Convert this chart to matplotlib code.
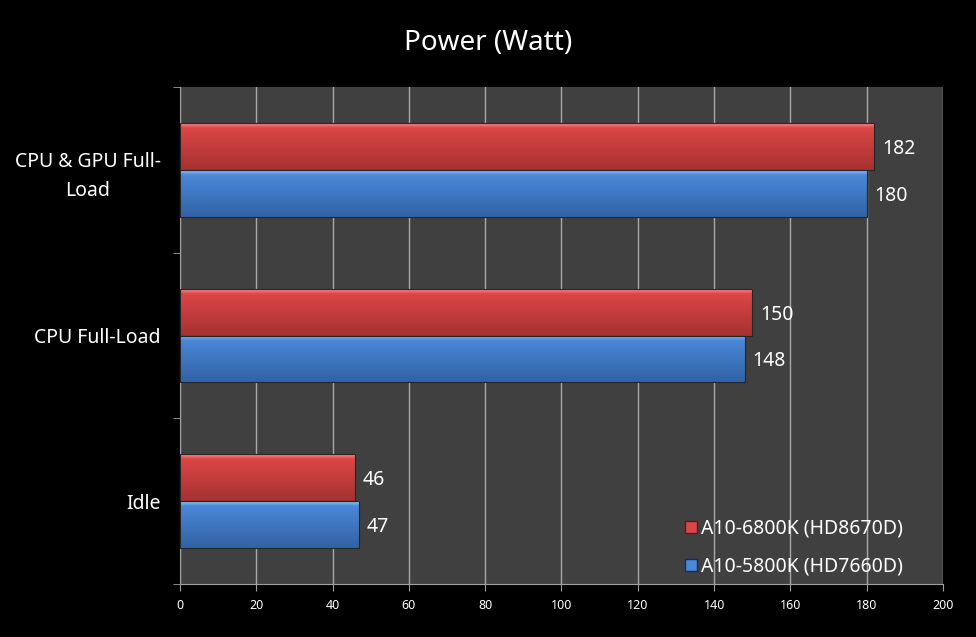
import numpy as np
import matplotlib.pyplot as plt
from matplotlib.patches import Rectangle
from matplotlib.lines import Line2D
from matplotlib.colors import to_rgb

categories = ["Idle", "CPU Full-Load", "CPU & GPU Full-\nLoad"]
a10_6800k = [46, 150, 182]
a10_5800k = [47, 148, 180]
series_names = ["A10-6800K (HD8670D)", "A10-5800K (HD7660D)"]
x_ticks = [0, 20, 40, 60, 80, 100, 120, 140, 160, 180, 200]

plt.rcParams['font.family'] = ['Noto Sans', 'DejaVu Sans']

RED = ["#f58a8a", "#dc4646", "#a63131"]
BLUE = ["#92c6f8", "#4a88d8", "#3262a4"]

fig = plt.figure(figsize=(9.76, 6.37), dpi=100, facecolor="black")
ax = fig.add_axes([0.1844, 0.0832, 0.7818, 0.7802])
ax.set_facecolor("#404040")

y = np.arange(len(categories))
h = 0.283


def grad_bar(x0, yc, w, hh, cols):
    # flat bar with a vertical gradient clipped inside
    r = Rectangle((x0, yc - hh / 2), w, hh, facecolor=cols[1],
                  edgecolor="none", zorder=3)
    ax.add_patch(r)
    n = 80
    c0, c1, c2 = (np.array(to_rgb(c)) for c in cols)
    img = np.zeros((n, 1, 3))
    for i, v in enumerate(np.linspace(0, 1, n)):
        if v < 0.1:
            img[i, 0] = c0 + (c1 - c0) * (v / 0.1)
        else:
            img[i, 0] = c1 + (c2 - c1) * ((v - 0.1) / 0.9)
    im = ax.imshow(img, extent=(x0, x0 + w, yc - hh / 2, yc + hh / 2),
                   origin="upper", aspect="auto", zorder=3.5,
                   interpolation="bilinear")
    im.set_clip_path(r)
    ax.add_patch(Rectangle((x0, yc - hh / 2), w, hh, facecolor="none",
                           edgecolor="#262626", linewidth=0.8, zorder=4))


for i in range(len(categories)):
    grad_bar(0, y[i] + h / 2, a10_6800k[i], h, RED)
    grad_bar(0, y[i] - h / 2, a10_5800k[i], h, BLUE)
    ax.text(a10_6800k[i] + 2, y[i] + h / 2, str(a10_6800k[i]), color="white",
            fontsize=14, va="center_baseline", ha="left", zorder=5)
    ax.text(a10_5800k[i] + 2, y[i] - h / 2, str(a10_5800k[i]), color="white",
            fontsize=14, va="center_baseline", ha="left", zorder=5)

ax.set_xlim(0, 200)
ax.set_ylim(-0.5, len(categories) - 0.5)
ax.set_xticks(x_ticks)
ax.set_xticklabels([str(v) for v in x_ticks], color="white", fontsize=9)
ax.set_yticks(y)
ax.set_yticklabels(categories, color="white", fontsize=14, ha="right",
                   multialignment="center", linespacing=1.6)
ax.tick_params(axis="y", length=0, pad=14)
ax.set_yticks(np.arange(-0.5, len(categories), 1.0), minor=True)
ax.tick_params(axis="y", which="minor", length=5, color="#a0a0a0")
ax.tick_params(axis="x", length=5, color="#a0a0a0", pad=6)

ax.grid(axis="x", color="#a8a8a8", linewidth=1, zorder=1)
ax.set_axisbelow(True)
for s in ["top", "right"]:
    ax.spines[s].set_visible(False)
for s in ["left", "bottom"]:
    ax.spines[s].set_color("#a0a0a0")

# legend
handles = [Line2D([], [], marker="s", linestyle="none", markersize=8,
                  markerfacecolor=RED[1], markeredgecolor="#5a1a1a"),
           Line2D([], [], marker="s", linestyle="none", markersize=8,
                  markerfacecolor=BLUE[1], markeredgecolor="#1a2a5a")]
leg = ax.legend(handles, series_names, loc="lower right", frameon=False,
                fontsize=14, labelcolor="white", handletextpad=0.0,
                handlelength=1.0, borderaxespad=0.3, labelspacing=0.9,
                bbox_to_anchor=(0.965, -0.012))

fig.text(0.5, 0.932, "Power (Watt)", color="white", fontsize=20,
         ha="center", va="center")

fig.savefig("out.png", dpi=100, facecolor="black")
